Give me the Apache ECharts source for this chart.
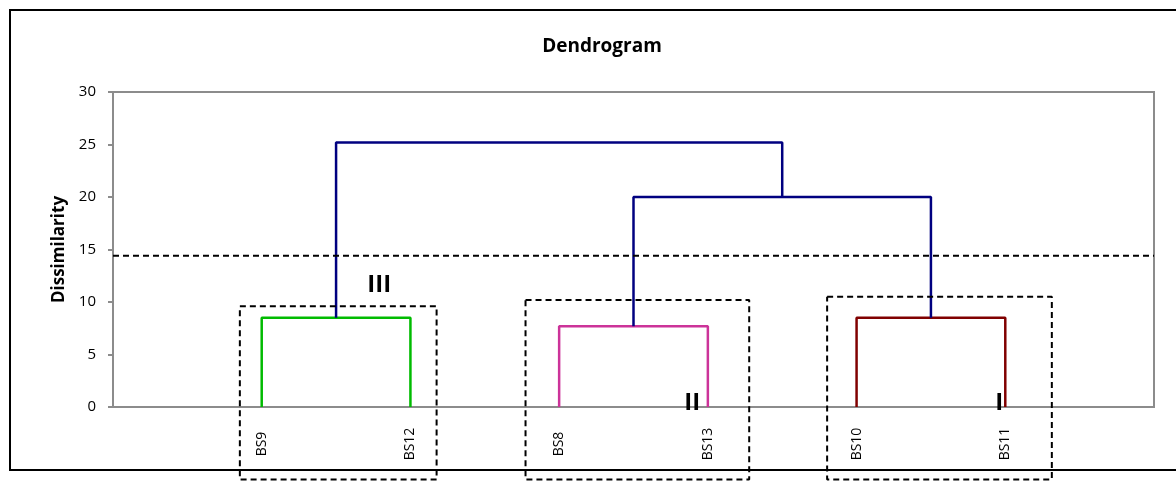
<!DOCTYPE html>
<html>
<head>
<meta charset="utf-8">
<script src="https://cdn.jsdelivr.net/npm/echarts@6/dist/echarts.min.js"></script>
<style>
  html, body { margin: 0; padding: 0; background: #fff; }
  #chart { width: 1176px; height: 481px; }
</style>
</head>
<body>
<div id="chart"></div>
<script>
// leaves in dendrogram order
const leaves = ['BS9', 'BS12', 'BS8', 'BS13', 'BS10', 'BS11']
// first-level merges: leaf index pairs and their dissimilarity
const clusterPairs = [[0, 1], [2, 3], [4, 5]]
const clusterHeights = [8.5, 7.7, 8.5]
const clusterNames = ['III', 'II', 'I']
const clusterColors = ['#00BB00', '#CC3399', '#800000']
// upper merges: II + I, then III + (II,I)
const upperHeights = [20.0, 25.2]
const cutHeight = 14.4
const yTicks = [0, 5, 10, 15, 20, 25, 30]

const font = '"Open Sans", "DejaVu Sans", sans-serif'
const pos = i => i + 1

// U-shaped links built from data
const links = []
const centers = clusterPairs.map(([a, b], k) => {
  const h = clusterHeights[k]
  links.push({ pts: [[pos(a), 0], [pos(a), h], [pos(b), h], [pos(b), 0]], color: clusterColors[k] })
  return (pos(a) + pos(b)) / 2
})
const midLow = (centers[1] + centers[2]) / 2
links.push({ pts: [[centers[1], clusterHeights[1]], [centers[1], upperHeights[0]], [centers[2], upperHeights[0]], [centers[2], clusterHeights[2]]], color: '#000080' })
links.push({ pts: [[centers[0], clusterHeights[0]], [centers[0], upperHeights[1]], [midLow, upperHeights[1]], [midLow, upperHeights[0]]], color: '#000080' })

// dashed annotation boxes (x range, top, bottom in axis units)
const boxes = [
  { x0: 0.853, x1: 2.176, top: 9.6, bottom: -6.9 },
  { x0: 2.774, x1: 4.278, top: 10.2, bottom: -6.9 },
  { x0: 4.802, x1: 6.313, top: 10.5, bottom: -6.9 }
]
const numeralPos = [[1.79, 11.6], [3.895, 0.4], [5.96, 0.4]]

const series = []
links.forEach(l => {
  series.push({
    type: 'line', data: l.pts, showSymbol: false, silent: true, z: 3,
    lineStyle: { color: l.color, width: 2.5 }
  })
})
series.push({
  type: 'line', data: [[0, cutHeight], [7, cutHeight]], showSymbol: false, silent: true, z: 4,
  lineStyle: { color: '#000', width: 2, type: [6, 4] }
})
boxes.forEach(b => {
  series.push({
    type: 'line', clip: false, showSymbol: false, silent: true, z: 4,
    data: [[b.x0, b.top], [b.x1, b.top], [b.x1, b.bottom], [b.x0, b.bottom], [b.x0, b.top]],
    lineStyle: { color: '#000', width: 2, type: [6, 4] }
  })
})
series.push({
  type: 'scatter', symbolSize: 1, silent: true, z: 6,
  itemStyle: { color: 'transparent', opacity: 1 },
  data: numeralPos.map((p, i) => ({ value: p, name: clusterNames[i] })),
  label: {
    show: true, position: 'inside', formatter: '{b}',
    color: '#000', opacity: 1, fontSize: 24, fontWeight: 'bold', fontFamily: font
  }
})

const chart = echarts.init(document.getElementById('chart'))
chart.setOption({
  animation: false,
  backgroundColor: '#fff',
  title: {
    text: 'Dendrogram', left: 597, top: 32, textAlign: 'center',
    textStyle: { fontSize: 19, fontWeight: 'bold', color: '#000', fontFamily: font }
  },
  graphic: [{
    type: 'rect', shape: { x: 10, y: 10, width: 1200, height: 460 },
    style: { fill: 'none', stroke: '#000', lineWidth: 2 }, z: 0
  }],
  grid: {
    left: 113, top: 92, right: 22, bottom: 74,
    show: true, borderColor: '#8c8c8c', borderWidth: 2
  },
  xAxis: {
    type: 'value', min: 0, max: 7, interval: 1,
    splitLine: { show: false },
    axisTick: { show: false },
    axisLine: { lineStyle: { color: '#8c8c8c', width: 2 } },
    axisLabel: {
      rotate: 90, align: 'center', verticalAlign: 'middle', margin: 37,
      color: '#000', fontSize: 14, fontFamily: font,
      formatter: v => leaves[v - 1] || ''
    }
  },
  yAxis: {
    type: 'value', min: yTicks[0], max: yTicks[yTicks.length - 1], interval: 5,
    name: 'Dissimilarity', nameLocation: 'middle', nameGap: 44,
    nameTextStyle: { fontSize: 17, fontWeight: 'bold', color: '#000', fontFamily: font },
    splitLine: { show: false },
    axisLine: { show: true, lineStyle: { color: '#8c8c8c', width: 2 } },
    axisTick: { show: true, length: 5, lineStyle: { color: '#8c8c8c', width: 2 } },
    axisLabel: { color: '#000', fontSize: 15, margin: 17, fontFamily: font }
  },
  series: series
})
</script>
</body>
</html>
